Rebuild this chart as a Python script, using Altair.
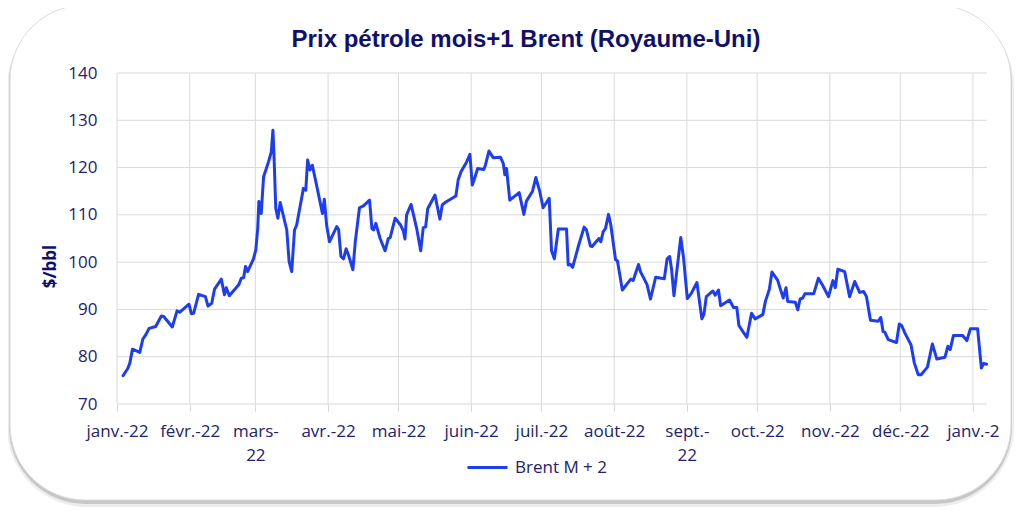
import json
import altair as alt
import pandas as pd

# ---- Données (jours depuis le 1er janv. 2022, $/bbl) ----
jours = [
    2.6, 4.6, 5.5, 6.6, 9.7, 11.0, 12.1, 13.7, 16.5, 18.9,
    19.9, 23.6, 25.6, 26.7, 30.7, 31.7, 32.7, 34.8, 37.7, 38.8,
    40.4, 41.6, 44.5, 45.8, 46.6, 47.9, 51.9, 53.0, 54.0, 54.8,
    55.7, 58.2, 59.2, 60.0, 60.5, 61.5, 62.5, 64.6, 65.8, 66.5,
    67.0, 67.7, 68.6, 69.6, 72.4, 73.4, 74.5, 75.7, 76.6, 79.5,
    80.5, 81.3, 82.3, 83.3, 85.1, 87.6, 88.4, 89.4, 90.6, 93.7,
    94.5, 95.5, 96.6, 97.7, 98.7, 100.6, 101.6, 103.4, 105.1, 107.7,
    108.7, 109.4, 110.4, 112.2, 114.3, 115.7, 116.5, 118.6, 121.0, 122.1,
    122.8, 123.5, 125.4, 127.8, 129.5, 130.6, 131.6, 132.5, 135.6, 136.6,
    137.7, 138.7, 139.9, 144.5, 145.5, 146.7, 149.1, 150.5, 151.5, 152.3,
    153.8, 156.4, 157.1, 158.6, 160.4, 163.5, 164.7, 165.4, 166.1, 167.5,
    171.5, 173.5, 174.6, 177.2, 178.6, 180.3, 181.7, 184.3, 185.3, 186.5,
    188.2, 191.7, 192.4, 193.4, 194.3, 196.7, 199.2, 200.2, 201.9, 202.6,
    205.5, 206.3, 207.3, 208.3, 209.6, 210.6, 212.6, 213.4, 215.5, 219.1,
    220.1, 222.4, 223.2, 226.0, 227.5, 229.7, 233.4, 234.6, 235.7, 236.5,
    237.5, 239.2, 240.4, 241.6, 243.2, 244.9, 247.3, 249.4, 250.3, 251.3,
    254.1, 255.1, 256.5, 257.4, 261.2, 262.9, 264.3, 265.2, 266.9, 268.6,
    270.6, 272.1, 275.4, 276.5, 278.2, 279.3, 281.7, 284.1, 285.3, 286.0,
    289.3, 290.3, 291.3, 292.4, 293.3, 297.1, 299.1, 301.0, 303.4, 305.3,
    306.3, 307.4, 310.3, 312.4, 314.6, 316.7, 318.4, 319.6, 321.3, 324.6,
    325.7, 326.7, 327.4, 328.9, 332.4, 333.6, 334.6, 336.0, 338.6, 340.0,
    341.7, 342.9, 345.6, 347.7, 349.6, 353.1, 354.3, 355.3, 356.7, 360.6,
    362.4, 363.9, 367.0, 368.6, 369.6, 370.8,
]
prix = [
    76.0, 77.5, 78.7, 81.6, 80.9, 83.7, 84.5, 86.0, 86.4, 88.6,
    88.5, 86.3, 89.7, 89.4, 91.1, 89.1, 89.2, 93.2, 92.7, 90.7,
    91.3, 94.3, 96.4, 93.1, 94.6, 92.9, 95.2, 96.6, 96.7, 99.1,
    98.0, 100.7, 102.6, 107.1, 112.8, 110.3, 118.0, 121.2, 123.3, 127.9,
    121.9, 111.4, 109.3, 112.6, 106.8, 100.1, 98.0, 106.8, 107.8, 115.6,
    115.2, 121.6, 119.5, 120.5, 116.3, 110.3, 113.3, 107.8, 104.3, 107.5,
    106.9, 101.2, 100.7, 102.8, 101.5, 98.4, 104.3, 111.5, 111.9, 113.1,
    107.1, 106.8, 108.2, 105.0, 102.4, 105.0, 105.2, 109.3, 107.8, 106.6,
    104.9, 110.0, 112.2, 107.1, 102.4, 107.3, 107.4, 111.3, 114.2, 111.7,
    109.1, 112.1, 112.6, 114.0, 117.4, 119.1, 121.2, 122.8, 116.3, 117.4,
    119.8, 119.6, 120.5, 123.5, 122.1, 122.2, 120.9, 118.5, 119.8, 113.1,
    114.7, 110.1, 112.9, 115.0, 117.9, 114.9, 111.5, 113.5, 102.4, 100.7,
    107.0, 107.0, 99.4, 99.5, 98.9, 103.3, 107.4, 106.8, 103.4, 103.3,
    105.0, 104.3, 106.4, 107.1, 110.1, 107.8, 100.5, 100.3, 94.1, 96.4,
    96.1, 99.5, 98.0, 95.3, 92.2, 96.8, 96.5, 100.7, 101.2, 98.4,
    92.9, 100.1, 105.2, 100.9, 92.3, 93.4, 95.7, 88.0, 89.0, 92.7,
    93.9, 93.0, 94.1, 90.8, 92.0, 90.4, 90.4, 86.6, 85.3, 84.1,
    89.2, 88.0, 88.9, 91.7, 94.3, 97.9, 96.2, 92.4, 94.6, 91.7,
    91.5, 89.9, 92.2, 92.4, 93.3, 93.3, 96.6, 95.0, 92.7, 96.1,
    94.6, 98.5, 98.0, 92.7, 95.9, 93.6, 93.8, 92.7, 87.7, 87.5,
    88.3, 85.3, 85.2, 83.6, 83.0, 86.9, 86.6, 85.0, 82.5, 78.7,
    76.2, 76.2, 77.8, 82.7, 79.5, 79.9, 82.2, 81.5, 84.5, 84.5,
    83.4, 85.9, 85.9, 77.6, 78.6, 78.4,
]
serie = "Brent M + 2"

debuts_mois = [0, 31, 59, 90, 120, 151, 181, 212, 243, 273, 304, 334, 365]
libelles_mois = [
    ["janv.-22"], ["févr.-22"], ["mars-", "22"], ["avr.-22"], ["mai-22"],
    ["juin-22"], ["juil.-22"], ["août-22"], ["sept.-", "22"], ["oct.-22"],
    ["nov.-22"], ["déc.-22"], ["janv.-2"],
]
graduations_y = [70, 80, 90, 100, 110, 120, 130, 140]

titre = "Prix pétrole mois+1 Brent (Royaume-Uni)"
titre_y = "$/bbl"

# ---- Styles ----
BLEU = "#1e3df0"
NAVY_TITRE = "#10106c"
NAVY_TEXTE = "#22226e"
GRILLE = "#d9d9d9"
POLICE = "Open Sans"

df = pd.DataFrame({"jour": jours, "prix": prix, "serie": serie})
df_mois = pd.DataFrame({"jour": debuts_mois})
df_grad = pd.DataFrame({"prix": graduations_y})

x_scale = alt.Scale(domain=[0, 371], nice=False, zero=False)
y_scale = alt.Scale(domain=[70, 140], nice=False, zero=False)

label_expr = (
    f"{json.dumps(libelles_mois, ensure_ascii=False)}"
    f"[indexof({json.dumps(debuts_mois)}, datum.value)]"
)

ax_x = alt.Axis(
    values=debuts_mois, labelExpr=label_expr, title=None, grid=False,
    domain=False, ticks=True, tickSize=7, tickColor=GRILLE, tickWidth=1,
    labelFont=POLICE, labelFontSize=17, labelColor=NAVY_TEXTE,
    labelPadding=12, labelLineHeight=24.5, labelOverlap=False,
    labelFlush=False, labelBound=False, zindex=1,
)
ax_y = alt.Axis(
    values=graduations_y, title=titre_y, grid=False, domain=False,
    ticks=False, labelFont=POLICE, labelFontSize=17, labelColor=NAVY_TEXTE,
    labelPadding=20, titleFont=POLICE, titleFontSize=17, titleFontWeight="bold",
    titleColor=NAVY_TITRE, titleX=-67, titleY=193, titleAngle=270,
    titleAlign="center", titleBaseline="middle", zindex=1,
)

un = alt.Data(values=[{"k": 1}])

ombre_large = alt.Chart(un).mark_rect(
    color="#000000", opacity=0.07, cornerRadius=80
).encode(x=alt.value(-110), x2=alt.value(897), y=alt.value(-66), y2=alt.value(434))

ombre = alt.Chart(un).mark_rect(
    color="#000000", opacity=0.16, cornerRadius=77
).encode(x=alt.value(-108), x2=alt.value(895), y=alt.value(-67), y2=alt.value(431))

cadre = alt.Chart(un).mark_rect(
    fill="#ffffff", stroke="#dcdcdc", strokeWidth=1, cornerRadius=75
).encode(x=alt.value(-107), x2=alt.value(894), y=alt.value(-68), y2=alt.value(427))

grille_v = alt.Chart(df_mois).mark_rule(color=GRILLE, strokeWidth=1).encode(
    x=alt.X("jour:Q", scale=x_scale, axis=ax_x)
)
grille_h = alt.Chart(df_grad).mark_rule(color=GRILLE, strokeWidth=1).encode(
    y=alt.Y("prix:Q", scale=y_scale, axis=ax_y)
)

ligne = alt.Chart(df).mark_line(
    strokeWidth=3, strokeJoin="round", strokeCap="round"
).encode(
    x=alt.X("jour:Q", scale=x_scale, axis=ax_x),
    y=alt.Y("prix:Q", scale=y_scale, axis=ax_y),
    color=alt.Color(
        "serie:N",
        scale=alt.Scale(domain=[serie], range=[BLEU]),
        legend=alt.Legend(
            orient="none", legendX=349, legendY=373, title=None,
            symbolType="stroke", symbolSize=1600, symbolStrokeWidth=3,
            labelFont=POLICE, labelFontSize=17, labelColor=NAVY_TEXTE,
            labelOffset=6,
        ),
    ),
)

chart = alt.layer(ombre_large, ombre, cadre, grille_v, grille_h, ligne).properties(
    width=870,
    height=331,
    padding={"left": 109, "top": 65, "right": 29, "bottom": 103},
    autosize=alt.AutoSizeParams(type="none"),
    title=alt.TitleParams(
        text=titre, font="Liberation Sans", fontSize=24, fontWeight="bold",
        color=NAVY_TITRE, anchor="middle", dx=-26, offset=-66,
        baseline="alphabetic",
    ),
    background="white",
).configure_view(strokeWidth=0)

chart.save("out.html", embed_options={"renderer": "svg", "actions": False})
